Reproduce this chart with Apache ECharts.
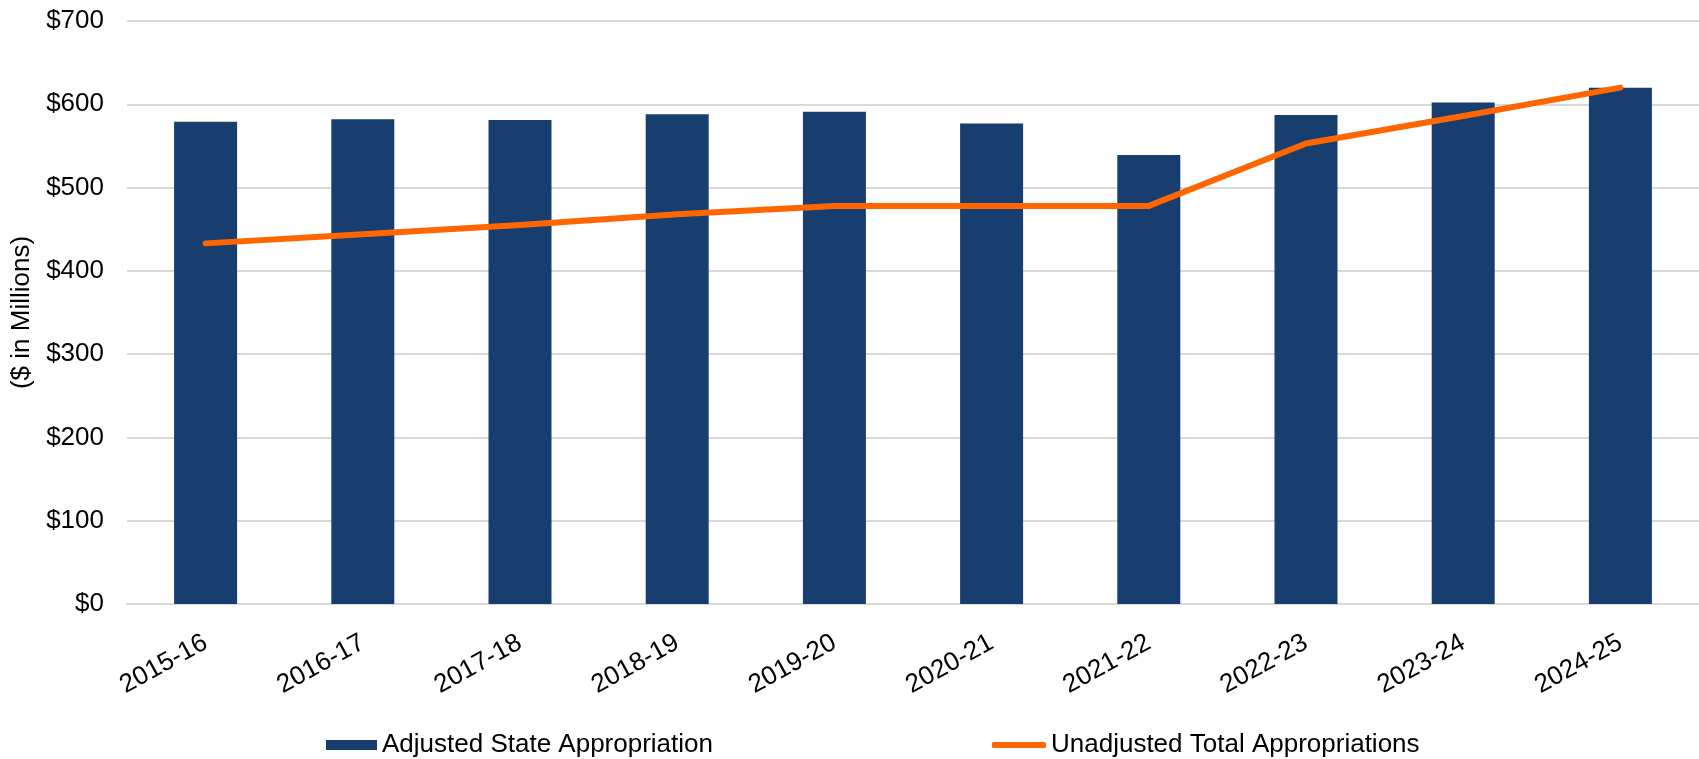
<!DOCTYPE html>
<html lang="en">
<head>
    <meta charset="UTF-8">
    <title>Appropriations</title>
    <script src="https://cdn.jsdelivr.net/npm/echarts@6/dist/echarts.min.js"></script>
    <style>
        html, body { margin: 0; padding: 0; background: #fff; }
        #container { width: 1699px; height: 759px; }
    </style>
</head>
<body>
    <div id="container"></div>
    <script>
        var years = ['2015-16', '2016-17', '2017-18', '2018-19', '2019-20',
                     '2020-21', '2021-22', '2022-23', '2023-24', '2024-25'];
        var adjustedState = [579, 582, 581, 588, 591, 577, 539, 587, 602, 620];
        var unadjustedTotal = [433, 444, 455, 468, 478, 478, 478, 553, 586, 620];
        var yTicks = [0, 100, 200, 300, 400, 500, 600, 700];

        var font = "'Liberation Sans', Arial, sans-serif";
        var myChart = echarts.init(document.getElementById('container'));

        myChart.setOption({
            animation: false,
            grid: { left: 127, top: 21, width: 1577, height: 583 },
            legend: [
                {
                    left: 326, top: 732, padding: 0,
                    itemWidth: 51, itemHeight: 10,
                    data: [{ name: 'Adjusted State Appropriation', icon: 'rect' }],
                    textStyle: { fontFamily: font, fontSize: 26, color: '#000' }
                },
                {
                    left: 992, top: 732, padding: 0,
                    itemWidth: 54, itemHeight: 6,
                    data: [{ name: 'Unadjusted Total Appropriations', icon: 'roundRect' }],
                    textStyle: { fontFamily: font, fontSize: 26, color: '#000' }
                }
            ],
            xAxis: {
                type: 'category',
                data: years,
                axisLine: { lineStyle: { color: '#d9d9d9', width: 2 } },
                axisTick: { show: false },
                axisLabel: {
                    rotate: 29, margin: 37,
                    fontFamily: font, fontSize: 26, color: '#000'
                }
            },
            yAxis: {
                type: 'value',
                min: yTicks[0],
                max: yTicks[yTicks.length - 1],
                interval: 100,
                name: '($ in Millions)',
                nameLocation: 'middle',
                nameGap: 79,
                nameTextStyle: { fontFamily: font, fontSize: 26, color: '#000' },
                splitLine: { lineStyle: { color: '#d9d9d9', width: 2 } },
                axisLabel: {
                    margin: 23,
                    fontFamily: font, fontSize: 26, color: '#000',
                    formatter: function (v) { return '$' + v; }
                }
            },
            series: [
                {
                    name: 'Adjusted State Appropriation',
                    type: 'bar',
                    data: adjustedState,
                    barWidth: 63,
                    itemStyle: { color: '#173e6e' }
                },
                {
                    name: 'Unadjusted Total Appropriations',
                    type: 'line',
                    data: unadjustedTotal,
                    symbol: 'none',
                    lineStyle: { color: '#ff6600', width: 6, cap: 'round', join: 'round' },
                    itemStyle: { color: '#ff6600' }
                }
            ]
        });
    </script>
</body>
</html>
